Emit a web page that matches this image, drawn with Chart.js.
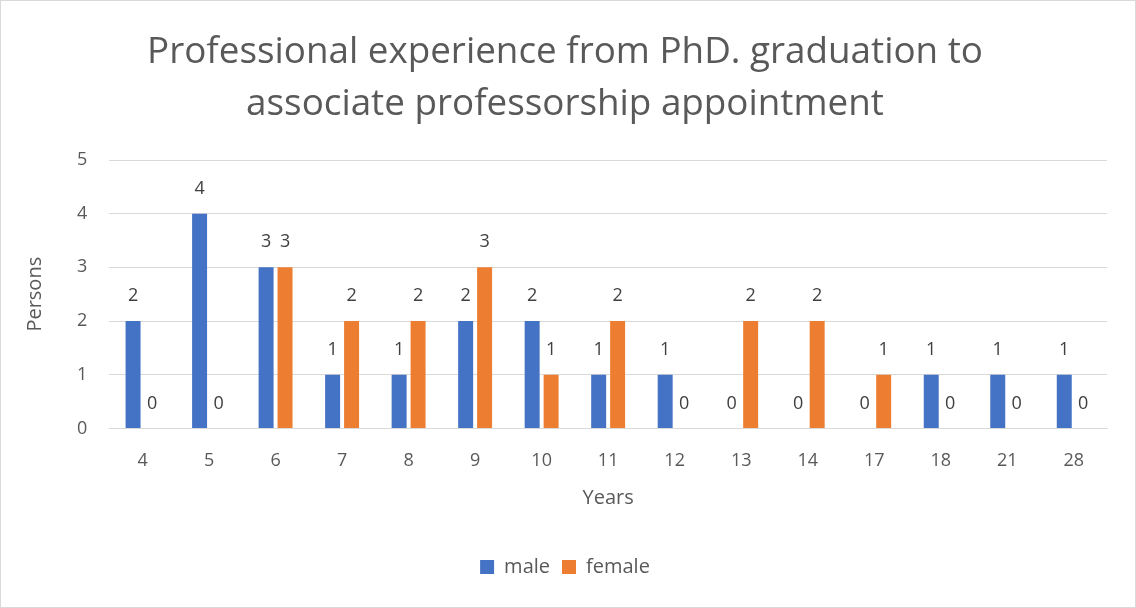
<!DOCTYPE html>
<html>
<head>
<meta charset="utf-8">
<script src="https://cdn.jsdelivr.net/npm/chart.js@4/dist/chart.umd.min.js"></script>
<style>
  html, body { margin: 0; padding: 0; background: #fff; }
  #wrap { width: 1136px; height: 608px; box-sizing: border-box; border: 1px solid #d9d9d9; }
</style>
</head>
<body>
<div id="wrap"><canvas id="chart" width="1134" height="606"></canvas></div>
<script>
const years = ['4', '5', '6', '7', '8', '9', '10', '11', '12', '13', '14', '17', '18', '21', '28'];
const male = [2, 4, 3, 1, 1, 2, 2, 1, 1, 0, 0, 0, 1, 1, 1];
const female = [0, 0, 3, 2, 2, 3, 1, 2, 0, 2, 2, 1, 0, 0, 0];
const yTicks = [0, 1, 2, 3, 4, 5];

const textColor = '#595959';
const fontFamily = '"Open Sans", "Liberation Sans", sans-serif';

// draws the value above every bar
const valueLabels = {
    id: 'valueLabels',
    afterDatasetsDraw(chart) {
        const ctx = chart.ctx;
        ctx.save();
        ctx.font = '18px ' + fontFamily;
        ctx.fillStyle = '#404040';
        ctx.textAlign = 'center';
        ctx.textBaseline = 'middle';
        chart.data.datasets.forEach((ds, i) => {
            chart.getDatasetMeta(i).data.forEach((bar, j) => {
                ctx.fillText(ds.data[j], bar.x, bar.y - 25);
            });
        });
        ctx.restore();
    }
};

new Chart(document.getElementById('chart').getContext('2d'), {
    type: 'bar',
    data: {
        labels: years,
        datasets: [
            { label: 'male', data: male, backgroundColor: '#4472c4' },
            { label: 'female', data: female, backgroundColor: '#ed7d31' }
        ]
    },
    options: {
        responsive: false,
        animation: false,
        datasets: { bar: { categoryPercentage: 0.57, barPercentage: 0.79 } },
        layout: { padding: { left: 22, right: 28, top: 10, bottom: 20 } },
        plugins: {
            title: {
                display: true,
                text: ['Professional experience from PhD. graduation to', 'associate professorship appointment'],
                color: textColor,
                font: { family: fontFamily, size: 36.8, weight: 'normal', lineHeight: '52px' },
                padding: { top: 16, bottom: 29 }
            },
            legend: {
                position: 'bottom',
                labels: {
                    color: textColor,
                    font: { family: fontFamily, size: 20 },
                    boxWidth: 14,
                    boxHeight: 14,
                    padding: 12
                }
            },
            tooltip: { enabled: false }
        },
        scales: {
            x: {
                grid: { display: false, drawTicks: false },
                border: { color: '#d9d9d9' },
                ticks: { color: textColor, font: { family: fontFamily, size: 18 }, padding: 22 },
                title: {
                    display: true, text: 'Years', color: textColor,
                    font: { family: fontFamily, size: 20, lineHeight: '2px' }, padding: { top: 3, bottom: 46 }
                }
            },
            y: {
                min: 0,
                max: yTicks[yTicks.length - 1],
                grid: { color: '#d9d9d9', drawTicks: false },
                border: { display: false },
                afterBuildTicks: axis => { axis.ticks = yTicks.map(v => ({ value: v })); },
                ticks: { color: textColor, font: { family: fontFamily, size: 18 }, padding: 22 },
                title: {
                    display: true, text: 'Persons', color: textColor,
                    font: { family: fontFamily, size: 20 }, padding: { top: 0, bottom: 8 }
                }
            }
        }
    },
    plugins: [valueLabels]
});
</script>
</body>
</html>
